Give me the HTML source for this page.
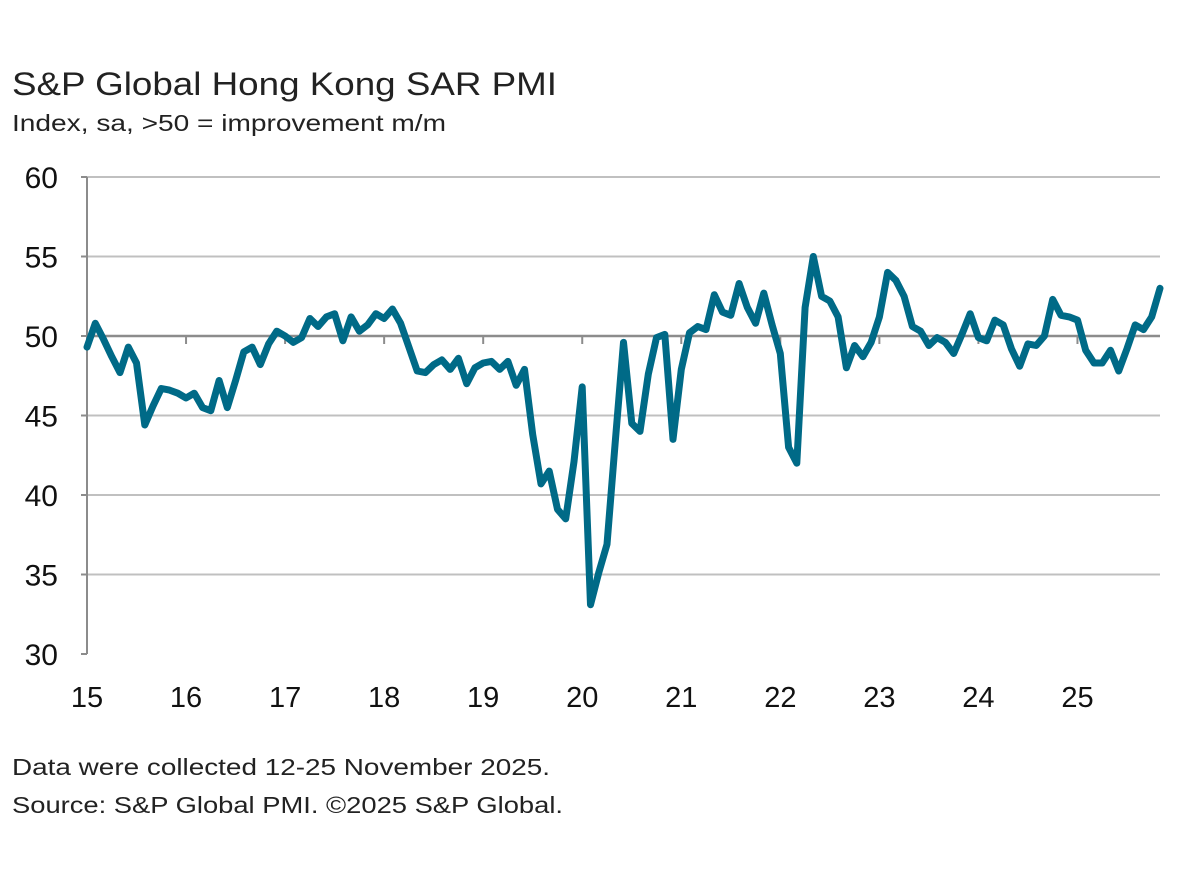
<!DOCTYPE html>
<html><head><meta charset="utf-8"><style>
body{margin:0;background:#fff;}
svg{display:block;font-family:"Liberation Sans",sans-serif;}
</style></head><body>
<svg id="chart" width="1190" height="884" viewBox="0 0 1190 884">
<text x="12" y="95" font-size="32" fill="#222" textLength="545" lengthAdjust="spacingAndGlyphs">S&amp;P Global Hong Kong SAR PMI</text>
<text x="12" y="131" font-size="23" fill="#222" textLength="434" lengthAdjust="spacingAndGlyphs">Index, sa, &gt;50 = improvement m/m</text>
<g id="grid"></g><g id="axes"></g><g id="series"></g>
<text x="12" y="775" font-size="23" fill="#222" textLength="538" lengthAdjust="spacingAndGlyphs">Data were collected 12-25 November 2025.</text>
<text x="12" y="813" font-size="23" fill="#222" textLength="551" lengthAdjust="spacingAndGlyphs">Source: S&amp;P Global PMI. ©2025 S&amp;P Global.</text>
</svg>
<script>
const yTicks=[30,35,40,45,50,55,60];
const yearLabels=["15","16","17","18","19","20","21","22","23","24","25"];
const pmi2015=[49.3,50.8,49.8,48.7,47.7,49.3,48.3,44.4,45.6,46.7,46.6,46.4];
const pmi2016=[46.1,46.4,45.5,45.3,47.2,45.5,47.2,49.0,49.3,48.2,49.5,50.3];
const pmi2017=[50.0,49.6,49.9,51.1,50.6,51.2,51.4,49.7,51.2,50.3,50.7,51.4];
const pmi2018=[51.1,51.7,50.8,49.3,47.8,47.7,48.2,48.5,47.9,48.6,47.0,48.0];
const pmi2019=[48.3,48.4,47.9,48.4,46.9,47.9,43.8,40.7,41.5,39.1,38.5,42.1];
const pmi2020=[46.8,33.1,35.1,36.9,43.3,49.6,44.5,44.0,47.6,49.9,50.1,43.5];
const pmi2021=[47.9,50.2,50.6,50.4,52.6,51.5,51.3,53.3,51.8,50.8,52.7,50.7];
const pmi2022=[48.9,43.0,42.0,51.8,55.0,52.5,52.2,51.2,48.0,49.4,48.7,49.6];
const pmi2023=[51.2,54.0,53.5,52.5,50.6,50.3,49.4,49.9,49.6,48.9,50.1,51.4];
const pmi2024=[49.9,49.7,51.0,50.7,49.2,48.1,49.5,49.4,50.0,52.3,51.3,51.2];
const pmi2025=[51.0,49.1,48.3,48.3,49.1,47.8,49.2,50.7,50.4,51.2,53.0];
const values=[].concat(pmi2015,pmi2016,pmi2017,pmi2018,pmi2019,pmi2020,pmi2021,pmi2022,pmi2023,pmi2024,pmi2025);
const NS="http://www.w3.org/2000/svg";
const X0=87,X1=1160,Y60=177,Y30=654;
const xS=i=>X0+i*(X1-X0)/130;
const yS=v=>Y30-(v-30)*(Y30-Y60)/30;
function mk(t,a,p){const e=document.createElementNS(NS,t);for(const k in a)e.setAttribute(k,a[k]);p.appendChild(e);return e;}
const grid=document.getElementById('grid'),axes=document.getElementById('axes'),ser=document.getElementById('series');
yTicks.forEach(v=>{
 if(v>30){const l=mk('line',{x1:X0,x2:X1,y1:yS(v),y2:yS(v),stroke:v===50?'#8c8c8c':'#c0c0c0','stroke-width':v===50?2.5:2},grid);
 
 }
 const tk=mk('line',{x1:X0-6,x2:X0,y1:yS(v),y2:yS(v),stroke:'#8c8c8c','stroke-width':2},axes);
 
 
 const t=mk('text',{x:58,y:yS(v)+11,'font-size':30,'text-anchor':'end',fill:'#111'},axes);t.textContent=v;
 
 
});
const ax=mk('line',{x1:X0,x2:X0,y1:Y60,y2:Y30,stroke:'#8c8c8c','stroke-width':2},axes);


yearLabels.forEach((lab,k)=>{
 const x=xS(k*12);
 if(k>0){const tk=mk('line',{x1:x,x2:x,y1:yS(50),y2:yS(50)+8,stroke:'#8c8c8c','stroke-width':2},axes);
 
 }
 const t=mk('text',{x:x,y:707,'font-size':29,'text-anchor':'middle',fill:'#111'},axes);t.textContent=lab;
 
 
});
const pts=values.map((v,i)=>xS(i).toFixed(1)+','+yS(v).toFixed(1)).join(' ');
const pl=mk('polyline',{points:pts,fill:'none',stroke:'#006A87','stroke-width':7,'stroke-linejoin':'round','stroke-linecap':'round'},ser);


</script>
</body></html>
